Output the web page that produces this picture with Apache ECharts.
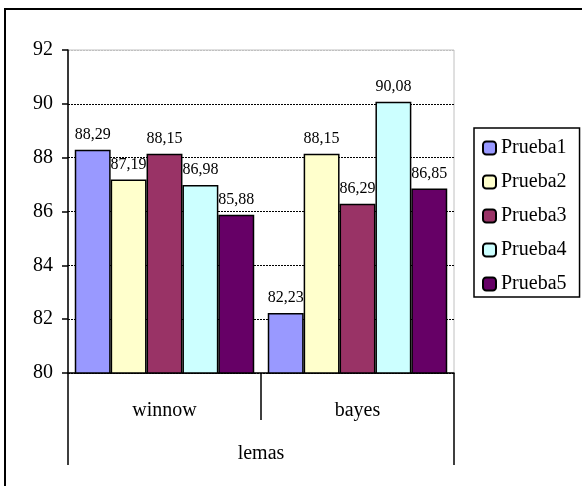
<!DOCTYPE html>
<html>
<head>
<meta charset="utf-8">
<script src="https://cdn.jsdelivr.net/npm/echarts@6/dist/echarts.min.js"></script>
<style>
  html, body { margin: 0; padding: 0; background: #fff; }
  #chart1 { width: 582px; height: 486px; }
</style>
</head>
<body>
<div id="chart1"></div>
<script>
var categories = ['winnow', 'bayes']; // grupos
var groupLabel = ['lemas'];
var seriesNames = ['Prueba1', 'Prueba2', 'Prueba3', 'Prueba4', 'Prueba5'];
var prueba1 = [88.29, 82.23];
var prueba2 = [87.19, 88.15];
var prueba3 = [88.15, 86.29];
var prueba4 = [86.98, 90.08];
var prueba5 = [85.88, 86.85];
var values = [prueba1, prueba2, prueba3, prueba4, prueba5];
var colors = ['#9999FF', '#FFFFCC', '#993366', '#CCFFFF', '#660066'];

var serif = '"Liberation Serif", "DejaVu Serif", serif';

var series = seriesNames.map(function (name, i) {
    return {
        name: name,
        type: 'bar',
        data: values[i],
        barGap: '0%',
        barCategoryGap: '7%',
        itemStyle: {
            color: colors[i],
            borderColor: '#000',
            borderWidth: 1.5
        },
        label: {
            show: true,
            position: 'top',
            distance: 7,
            color: '#000',
            fontFamily: serif,
            fontSize: 16,
            formatter: function (p) { // coma decimal
                return p.value.toFixed(2).replace('.', ',');
            }
        }
    };
});

var option = {
    animation: false,
    backgroundColor: '#fff',
    graphic: [{
        type: 'rect',
        shape: { x: 5, y: 9, width: 700, height: 600 },
        style: { fill: 'none', stroke: '#000', lineWidth: 2 },
        silent: true
    }],
    grid: {
        left: 68,
        top: 50,
        right: 128,
        bottom: 113,
        show: true,
        borderColor: '#c0c0c0',
        borderWidth: 1
    },
    legend: {
        orient: 'vertical',
        left: 474,
        top: 128,
        padding: [10, 13, 3, 8],
        itemGap: 14,
        itemWidth: 13,
        itemHeight: 13,
        borderColor: '#000',
        borderWidth: 1.5,
        textStyle: { fontFamily: serif, fontSize: 20, color: '#000' },
        data: seriesNames
    },
    xAxis: [{
        type: 'category',
        position: 'bottom',
        data: categories,
        axisLine: { lineStyle: { color: '#000', width: 1.5 } },
        axisTick: { show: true, length: 47, lineStyle: { color: '#000', width: 1.5 } },
        axisLabel: { margin: 28, color: '#000', fontFamily: serif, fontSize: 20 }
    }, {
        type: 'category',
        position: 'bottom',
        data: groupLabel,
        axisLine: { show: false },
        axisTick: { show: true, length: 92, lineStyle: { color: '#000', width: 1.5 } },
        axisLabel: { margin: 71, color: '#000', fontFamily: serif, fontSize: 20 }
    }],
    yAxis: {
        type: 'value',
        min: 80,
        max: 92,
        interval: 2,
        axisLine: { show: true, lineStyle: { color: '#000', width: 1.5 } },
        axisTick: { show: true, length: 6, lineStyle: { color: '#000', width: 1.5 } },
        axisLabel: { margin: 15, padding: [6, 0, 0, 0], color: '#000', fontFamily: serif, fontSize: 20 },
        splitLine: {
            show: true,
            lineStyle: {
                color: ['#000', '#000', '#000', '#000', '#000', '#000', '#c0c0c0'],
                type: [2, 1],
                width: 1
            }
        }
    },
    series: series
};

var myChart = echarts.init(document.getElementById('chart1'));
myChart.setOption(option);
</script>
</body>
</html>
